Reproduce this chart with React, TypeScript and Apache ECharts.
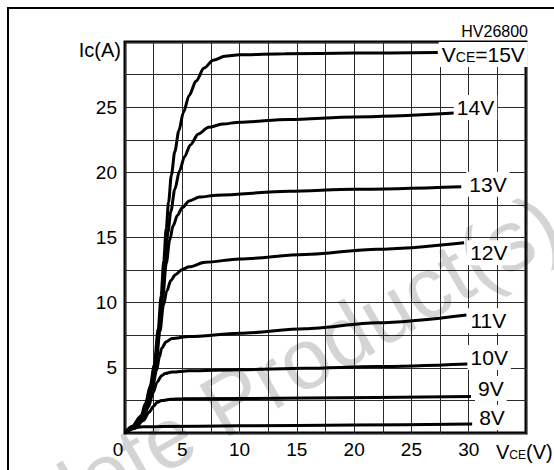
import React, { useEffect, useRef } from 'react';
import * as echarts from 'echarts';

// ---- data (Vce [V], Ic [A]) ----
const xTickLabels = [0, 5, 10, 15, 20, 25, 30];
const yTickLabels = [5, 10, 15, 20, 25];

const curve15V = [[0, 0], [0.6, 0.5], [1.4, 1.3], [1.8, 2.3], [2.2, 3.6], [2.55, 5.2], [2.9, 8], [3.15, 10.5], [3.38, 13.2], [3.6, 15.7], [3.8, 17.7], [4.05, 19.8], [4.35, 21.6], [4.7, 23.2], [5.1, 24.6], [5.6, 25.9], [6.2, 27.0], [6.9, 28.0], [7.7, 28.6], [8.7, 28.9], [10, 29.02], [14, 29.1], [20, 29.15], [27.3, 29.2]];
const curve14V = [[0, 0], [0.65, 0.5], [1.45, 1.3], [1.85, 2.3], [2.25, 3.6], [2.6, 5.2], [2.95, 8], [3.25, 10.5], [3.5, 13.2], [3.75, 15.4], [4.0, 17.0], [4.35, 18.7], [4.75, 20.1], [5.2, 21.2], [5.7, 22.1], [6.4, 22.95], [7.3, 23.45], [8.5, 23.7], [10, 23.85], [14.3, 24.05], [20, 24.25], [28.7, 24.55]];
const curve13V = [[0, 0], [0.7, 0.5], [1.5, 1.3], [1.9, 2.3], [2.3, 3.6], [2.65, 5.2], [3.0, 8], [3.3, 10.5], [3.6, 13], [3.9, 14.8], [4.2, 15.9], [4.58, 16.7], [5.0, 17.3], [5.6, 17.8], [6.5, 18.1], [8, 18.25], [14.3, 18.55], [20, 18.7], [29.35, 18.9]];
const curve12V = [[0, 0], [0.7, 0.45], [1.5, 1.25], [1.95, 2.3], [2.35, 3.6], [2.7, 5.2], [3.05, 7.8], [3.35, 9.8], [3.65, 10.9], [4.0, 11.7], [4.4, 12.15], [5.0, 12.55], [5.6, 12.75], [7.0, 13.1], [10, 13.35], [15.7, 13.7], [22, 14.1], [29.6, 14.6]];
const curve11V = [[0, 0], [0.75, 0.45], [1.55, 1.2], [2.0, 2.2], [2.4, 3.5], [2.75, 4.8], [3.0, 5.8], [3.2, 6.5], [3.6, 7.0], [4.1, 7.25], [5.6, 7.4], [10, 7.65], [15.7, 8.0], [22, 8.45], [29.8, 9.05]];
const curve10V = [[0, 0], [0.8, 0.4], [1.6, 1.1], [2.05, 2.0], [2.45, 3.1], [2.8, 3.9], [3.2, 4.4], [3.5, 4.56], [4.1, 4.68], [5.6, 4.77], [10, 4.85], [15.7, 4.97], [22, 5.1], [29.9, 5.3]];
const curve9V = [[0, 0], [0.85, 0.35], [1.6, 0.95], [2.1, 1.6], [2.5, 2.05], [2.8, 2.35], [3.2, 2.5], [4.0, 2.58], [5, 2.62], [15.7, 2.68], [30.2, 2.8]];
const curve8V = [[0, 0], [0.3, 0.25], [0.8, 0.4], [1.5, 0.47], [3, 0.5], [10, 0.55], [20, 0.62], [30.3, 0.69]];

const curves = [curve15V, curve14V, curve13V, curve12V, curve11V, curve10V, curve9V, curve8V];
const curveLabels = ['{v|V}{s|CE}{v|=15V}', '14V', '13V', '12V', '11V', '10V', '9V', '8V'];

// label placement (style)
const labelOffsets = [[1, 2], [0, -5.5], [5, -2.3], [3, 10], [1, 5.6], [0, -6.5], [4, -8], [4, -6.5]];

const FONT = "'Liberation Sans', Arial, sans-serif";

export default function App() {
  const ref = useRef<HTMLDivElement>(null);
  useEffect(() => {
    const chart = echarts.init(ref.current!, undefined, { renderer: 'svg' });
    const option: any = {
      animation: false,
      backgroundColor: '#fff',
      grid: {
        left: 125,
        top: 42,
        width: 401,
        height: 391,
        show: true,
        borderColor: '#000',
        borderWidth: 3,
        backgroundColor: 'transparent',
      },
      xAxis: {
        type: 'value',
        min: 0,
        max: 35,
        interval: 2.5,
        axisLine: { show: false },
        axisTick: { show: false },
        splitLine: { show: true, lineStyle: { color: '#2a2a2a', width: 1 } },
        axisLabel: {
          interval: 0,
          margin: 7,
          color: '#000',
          fontFamily: FONT,
          fontSize: 19,
          showMinLabel: true,
          showMaxLabel: true,
          formatter: (v: number) => {
            if (v === 0) return '{z|0}';
            return xTickLabels.includes(v) ? String(v) : '';
          },
          rich: { z: { fontFamily: FONT, fontSize: 19, color: '#000', padding: [0, 14, 0, 0] } },
        },
      },
      yAxis: {
        type: 'value',
        min: 0,
        max: 30,
        interval: 2.5,
        axisLine: { show: false },
        axisTick: { show: false },
        splitLine: { show: true, lineStyle: { color: '#2a2a2a', width: 1 } },
        axisLabel: {
          interval: 0,
          margin: 8,
          color: '#000',
          fontFamily: FONT,
          fontSize: 19,
          formatter: (v: number) => (yTickLabels.includes(v) ? String(v) : ''),
        },
      },
      series: curves.map((d, i) => ({
        type: 'line',
        data: d,
        showSymbol: false,
        smooth: 0.3,
        smoothMonotone: 'x',
        z: 3,
        lineStyle: { color: '#000', width: 3 },
        endLabel: {
          show: true,
          formatter: curveLabels[i],
          distance: 0,
          offset: labelOffsets[i],
          align: 'left',
          verticalAlign: 'middle',
          color: '#000',
          fontFamily: FONT,
          fontSize: 21,
          backgroundColor: '#fff',
          padding: [2, 3, 2, 3],
          rich: {
            v: { fontFamily: FONT, fontSize: 21, color: '#000', verticalAlign: 'bottom' },
            s: { fontFamily: FONT, fontSize: 14, color: '#000', verticalAlign: 'bottom', padding: [0, 0, 1, 0] },
          },
        },
      })),
      graphic: [
        {
          type: 'rect',
          z: 0,
          shape: { x: 8, y: 8, width: 620, height: 600 },
          style: { fill: 'none', stroke: '#000', lineWidth: 2 },
        },
        {
          type: 'text',
          z: 1,
          x: 573,
          y: 253,
          rotation: Math.PI / 6,
          style: {
            text: 'Obsolete Product(s)',
            fontFamily: FONT,
            fontSize: 86,
            fill: 'rgba(0,0,0,0.17)',
            align: 'right',
            verticalAlign: 'bottom',
          },
        },
        {
          type: 'text',
          x: 121,
          y: 50,
          style: {
            text: 'Ic(A)',
            fontFamily: FONT,
            fontSize: 20,
            fill: '#000',
            align: 'right',
            verticalAlign: 'middle',
          },
        },
        {
          type: 'text',
          x: 528,
          y: 31,
          style: {
            text: 'HV26800',
            fontFamily: FONT,
            fontSize: 16,
            fill: '#000',
            align: 'right',
            verticalAlign: 'middle',
          },
        },
        {
          type: 'text',
          x: 496,
          y: 452,
          style: {
            text: '{v|V}{s|CE}{v|(V)}',
            align: 'left',
            verticalAlign: 'middle',
            rich: {
              v: { fontFamily: FONT, fontSize: 20, fill: '#000', verticalAlign: 'bottom' },
              s: { fontFamily: FONT, fontSize: 12, fill: '#000', verticalAlign: 'bottom', padding: [0, 0, 1, 0] },
            },
          },
        },
      ],
    };
    chart.setOption(option);
    return () => chart.dispose();
  }, []);
  return (
    <div
      ref={ref}
      style={{ position: 'fixed', left: 0, top: 0, width: 554, height: 470, background: '#fff' }}
    />
  );
}
